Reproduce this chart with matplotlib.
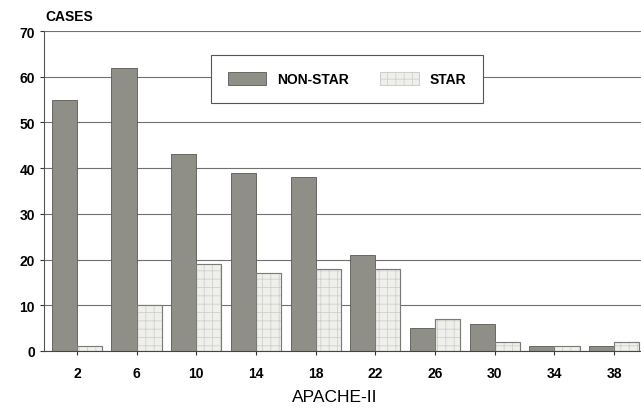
import matplotlib.pyplot as plt
import numpy as np

plt.rcParams['font.family'] = ['Liberation Sans', 'DejaVu Sans']
plt.rcParams['hatch.linewidth'] = 0.6

apache = ['2', '6', '10', '14', '18', '22', '26', '30', '34', '38']
non_star = [55, 62, 43, 39, 38, 21, 5, 6, 1, 1]
star = [1, 10, 19, 17, 18, 18, 7, 2, 1, 2]

x = np.arange(len(apache))
width = 0.42

fig = plt.figure(figsize=(6.41, 4.10), dpi=100)
ax = fig.add_axes([44 / 641, 1 - 352 / 410, 597 / 641, 320 / 410])

ax.yaxis.grid(True, color='#707070', linewidth=0.8)
ax.set_axisbelow(True)

ax.bar(x - width / 2, non_star, width=width, color='#8f8f88', edgecolor='#5a5a55',
       linewidth=0.6, label='NON-STAR')
# light hatched fill, then a darker outline on top
ax.bar(x + width / 2, star, width=width, color='#efefec', edgecolor='#d0d0ca',
       linewidth=0.8, hatch='++', label='STAR')
ax.bar(x + width / 2, star, width=width, fill=False, edgecolor='#7a7a76', linewidth=0.8)

ax.set_xlim(-0.55, 9.45)
ax.set_ylim(0, 70)
ax.set_yticks(range(0, 71, 10))
ax.set_xticks(x)
ax.set_xticklabels(apache)
ax.tick_params(axis='both', labelsize=10, length=3, color='#333333')
ax.tick_params(axis='x', pad=8)
for lab in ax.get_xticklabels() + ax.get_yticklabels():
    lab.set_fontweight('bold')

for s in ['top', 'right']:
    ax.spines[s].set_visible(False)
ax.spines['left'].set_color('#555555')
ax.spines['bottom'].set_color('#444444')

fig.text(45 / 641, 1 - 17 / 410, 'CASES', fontsize=10, fontweight='bold', va='center', ha='left')
fig.text(335 / 641, 1 - 398 / 410, 'APACHE-II', fontsize=12.5, va='center', ha='center')

leg = ax.legend(loc='center', bbox_to_anchor=(347 / 641, 1 - 80 / 410),
                bbox_transform=fig.transFigure, ncol=2, frameon=True, fancybox=False,
                prop={'size': 10, 'weight': 'bold'}, handlelength=2.8, handleheight=1.1,
                columnspacing=2.2, borderpad=1.2, edgecolor='#555555', framealpha=1)
leg.get_frame().set_linewidth(0.8)

fig.savefig('out.png', dpi=100)
